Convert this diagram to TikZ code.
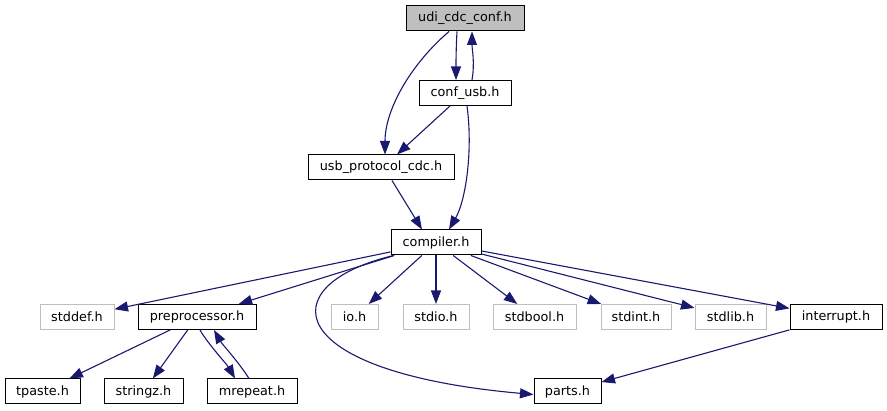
\documentclass[tikz,border=0pt]{standalone}
\usepackage{fontspec}
\setmainfont{DejaVu Sans}
\usetikzlibrary{arrows.meta}
\definecolor{edgec}{HTML}{191970}
\definecolor{grayb}{HTML}{BFBFBF}
\begin{document}
\begin{tikzpicture}[x=1pt,y=-1pt,
  box/.style={draw=black, line width=1pt, minimum height=25pt, inner sep=0pt, font=\fontsize{12.8}{15}\selectfont, text=black},
  sysbox/.style={box, draw=grayb},
  topbox/.style={box, fill=grayb},
  edge/.style={draw=edgec, line width=1.1pt, -{Triangle[length=13.5pt,width=10pt]}}]
\useasboundingbox (0,0) rectangle (887,411);
\node[topbox, minimum width=118pt] (udi) at (465,18.5) {udi\_cdc\_conf.h};
\node[box, minimum width=92pt] (conf) at (465,93) {conf\_usb.h};
\node[box, minimum width=146pt] (usbp) at (381,167.5) {usb\_protocol\_cdc.h};
\node[box, minimum width=90pt] (comp) at (436,242.5) {compiler.h};
\node[sysbox, minimum width=74pt] (stddef) at (77,317) {stddef.h};
\node[box, minimum width=118pt] (prep) at (197,317) {preprocessor.h};
\node[sysbox, minimum width=47pt] (io) at (354.5,317) {io.h};
\node[sysbox, minimum width=66pt] (stdio) at (436,317) {stdio.h};
\node[sysbox, minimum width=83pt] (stdbool) at (534.5,317) {stdbool.h};
\node[sysbox, minimum width=70pt] (stdint) at (636,317) {stdint.h};
\node[sysbox, minimum width=71pt] (stdlib) at (730.5,317) {stdlib.h};
\node[box, minimum width=92pt] (intr) at (836,317) {interrupt.h};
\node[box, minimum width=75pt] (tpaste) at (42.5,391.5) {tpaste.h};
\node[box, minimum width=79pt] (stringz) at (143.5,391.5) {stringz.h};
\node[box, minimum width=90pt] (mrepeat) at (252,391.5) {mrepeat.h};
\node[box, minimum width=67pt] (parts) at (567.5,391.5) {parts.h};

\draw[edge] ([xshift=-8pt]udi.south) .. controls +(-1,18) and +(0,-18) .. ([xshift=-9pt]conf.north);
\draw[edge] ([xshift=7pt]conf.north) .. controls +(3,-18) and +(0,18) .. ([xshift=7pt]udi.south);
\draw[edge] ([xshift=-16pt]udi.south) .. controls (410,65) and (385,110) .. ([xshift=4pt]usbp.north);
\draw[edge] ([xshift=-15pt]conf.south) -- ([xshift=16pt]usbp.north);
\draw[edge] ([xshift=2pt]conf.south) .. controls (473,150) and (466,200) .. ([xshift=13pt]comp.north);
\draw[edge] ([xshift=11pt]usbp.south) -- ([xshift=-14pt]comp.north);
\draw[edge] (comp) -- (stddef);
\draw[edge] (comp) -- (prep);
\draw[edge] (comp) -- (io);
\draw[edge] (comp) -- (stdio);
\draw[edge] (comp) -- (stdbool);
\draw[edge] (comp) -- (stdint);
\draw[edge] (comp) -- (stdlib);
\draw[edge] (comp) -- (intr);
\draw[edge] ([xshift=3pt]comp.south west) .. controls (270,285) and (280,372) .. ([yshift=-3pt]parts.west);
\draw[edge] (prep) -- (tpaste);
\draw[edge] (prep) -- (stringz);
\draw[edge] ([xshift=3pt]prep.south) .. controls +(8,14) and +(-8,-14) .. ([xshift=-17pt]mrepeat.north);
\draw[edge] ([xshift=-3pt]mrepeat.north) .. controls +(-10,-16) and +(8,14) .. ([xshift=17pt]prep.south);
\draw[edge] (intr) -- (parts);
\end{tikzpicture}
\end{document}
